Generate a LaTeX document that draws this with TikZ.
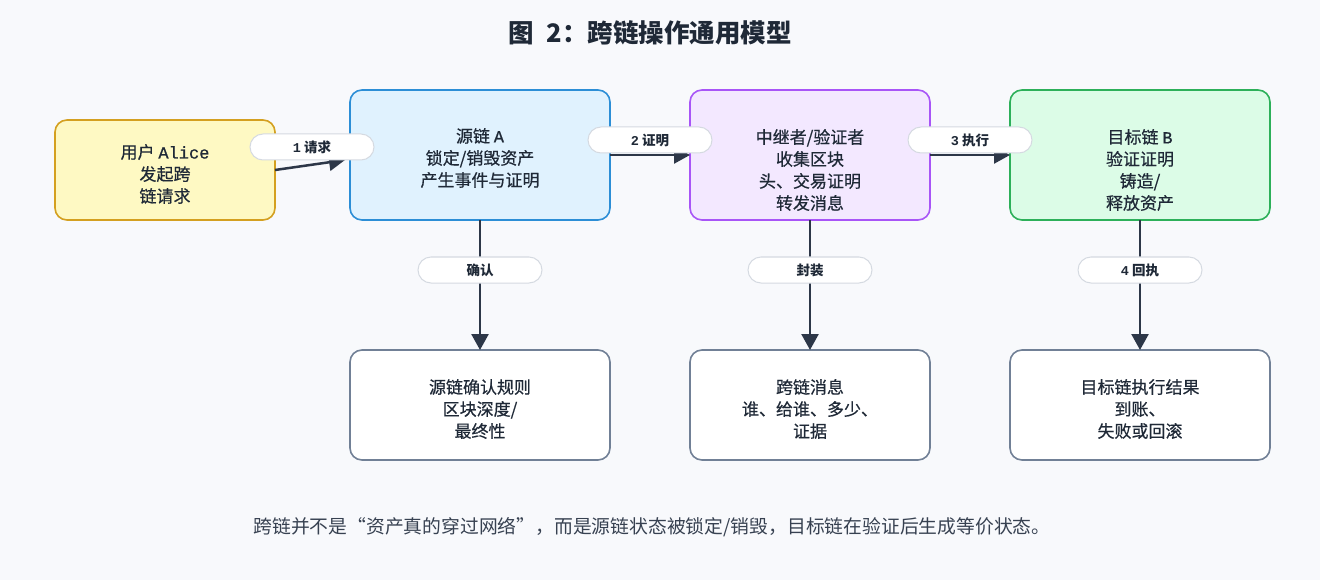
\documentclass[tikz,border=0pt]{standalone}
\usepackage{fontspec}
\setmainfont{Noto Sans CJK SC}
\newfontfamily\medfont{Noto Sans CJK SC}[FakeBold=0.5]
\newfontfamily\monofont{Liberation Mono}
\newfontfamily\medmono{Liberation Mono}[FakeBold=0.8]
\usetikzlibrary{arrows.meta}
\definecolor{bg}{HTML}{F8F9FC}
\definecolor{txt}{HTML}{1F2937}
\definecolor{foot}{HTML}{374151}
\definecolor{arrc}{HTML}{2D3748}
\definecolor{pillb}{HTML}{D5DAE1}
\definecolor{yfill}{HTML}{FEF9C3}
\definecolor{ydraw}{HTML}{D4A020}
\definecolor{bfill}{HTML}{E0F2FE}
\definecolor{bdraw}{HTML}{2C8ED6}
\definecolor{pfill}{HTML}{F3E8FF}
\definecolor{pdraw}{HTML}{A855F7}
\definecolor{gfill}{HTML}{DCFCE7}
\definecolor{gdraw}{HTML}{2DB05A}
\definecolor{sdraw}{HTML}{718096}
\begin{document}
\begin{tikzpicture}[x=1pt,y=-1pt,
  box/.style={draw, line width=1.6pt, rounded corners=12pt, inner sep=0pt, outer sep=0pt},
  nodetext/.style={font=\medfont\fontsize{17}{22}\selectfont, align=center, text=txt, inner sep=0pt},
  pill/.style={draw=pillb, fill=white, line width=1pt, rounded corners=13pt, minimum width=124pt, minimum height=26pt, inner sep=0pt, font=\bfseries\fontsize{13.5}{16}\selectfont, text=txt},
  arr/.style={draw=arrc, line width=2.5pt, -{Triangle[length=16pt,width=17pt]}}
]
\useasboundingbox[fill=bg] (0,0) rectangle (1320,580);

% title
\node[font=\bfseries\fontsize{25.5}{28}\selectfont, text=txt] (title) at (650,33) {图\hspace{0.5em}2：跨链操作通用模型};

% top row boxes
\node[box, fill=yfill, draw=ydraw, minimum width=220pt, minimum height=100pt] (alice) at (165,170) {};
\node[box, fill=bfill, draw=bdraw, minimum width=260pt, minimum height=130pt] (srcA) at (480,155) {};
\node[box, fill=pfill, draw=pdraw, minimum width=240pt, minimum height=130pt] (relay) at (810,155) {};
\node[box, fill=gfill, draw=gdraw, minimum width=260pt, minimum height=130pt] (tgtB) at (1140,155) {};

% bottom row boxes
\node[box, fill=white, draw=sdraw, minimum width=260pt, minimum height=110pt] (conf) at (480,405) {};
\node[box, fill=white, draw=sdraw, minimum width=240pt, minimum height=110pt] (msg) at (810,405) {};
\node[box, fill=white, draw=sdraw, minimum width=260pt, minimum height=110pt] (res) at (1140,405) {};

% texts
\node[nodetext] (aliceT) at (165,174) {用户 {\medmono Alice}\\发起跨\\链请求};
\node[nodetext] (srcAT) at (480,158) {源链 {\medmono A}\\锁定/销毁资产\\产生事件与证明};
\node[nodetext] (relayT) at (810,170) {中继者/验证者\\收集区块\\头、交易证明\\转发消息};
\node[nodetext] (tgtBT) at (1140,170) {目标链 {\medmono B}\\验证证明\\铸造/\\释放资产};
\node[nodetext] (confT) at (480,409) {源链确认规则\\区块深度/\\最终性};
\node[nodetext] (msgT) at (810,409) {跨链消息\\谁、给谁、多少、\\证据};
\node[nodetext] (resT) at (1140,409) {目标链执行结果\\到账、\\失败或回滚};

% connectors
\draw[arr] (alice.east) -- ([shift={(-5,5)}]srcA.west);
\draw[arr] (srcA.east) -- (relay.west);
\draw[arr] (relay.east) -- (tgtB.west);
\draw[arr] (srcA.south) -- (conf.north);
\draw[arr] (relay.south) -- (msg.north);
\draw[arr] (tgtB.south) -- (res.north);

% connector labels
\node[pill] (l1) at (312,147) {{\monofont 1} 请求};
\node[pill] (l2) at (650,140) {{\monofont 2} 证明};
\node[pill] (l3) at (970,140) {{\monofont 3} 执行};
\node[pill] (l4) at (480,270) {确认};
\node[pill] (l5) at (810,270) {封装};
\node[pill] (l6) at (1140,270) {{\monofont 4} 回执};

% footer
\node[font=\fontsize{18.8}{20}\selectfont, text=foot] (footer) at (652,527) {跨链并不是“资产真的穿过网络”，而是源链状态被锁定/销毁，目标链在验证后生成等价状态。};
\end{tikzpicture}
\end{document}
